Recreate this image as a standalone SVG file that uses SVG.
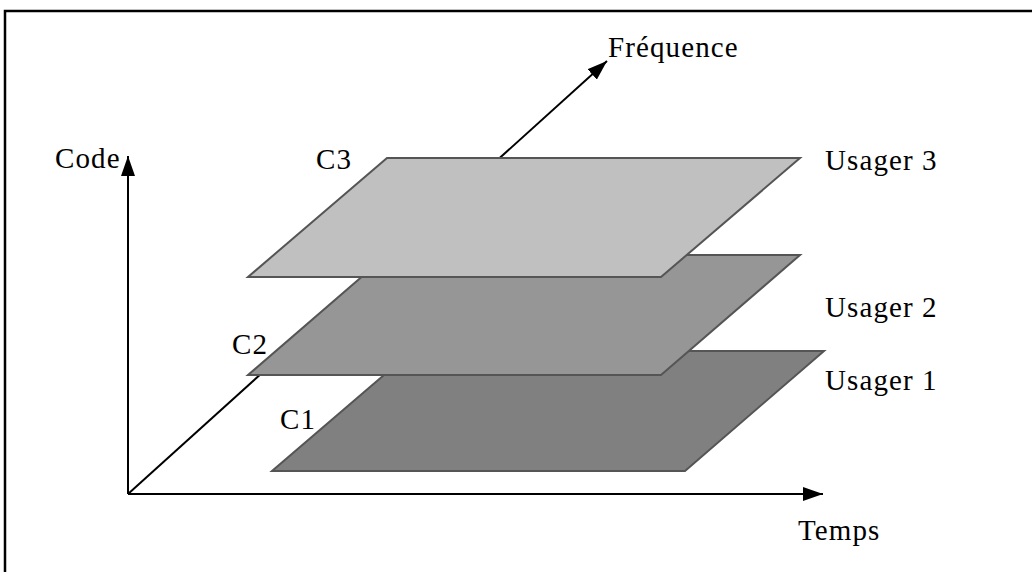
<svg xmlns="http://www.w3.org/2000/svg" width="1032" height="572" viewBox="0 0 1032 572">
<defs>
<marker id="ah" viewBox="0 0 20 14" refX="20" refY="7" markerWidth="20" markerHeight="14" markerUnits="userSpaceOnUse" orient="auto">
<path d="M0,0 L20,7 L0,14 Z" fill="#000"/>
</marker>
</defs>
<style>
.axis{stroke:#000;stroke-width:2;fill:none}
.plane{stroke:#555;stroke-width:2;stroke-linejoin:miter}
.lbl{font-family:"Liberation Serif","Times New Roman",serif;font-size:29px;letter-spacing:1.1px;fill:#000}
</style>
<rect x="0" y="0" width="1032" height="572" fill="#fff"/>
<g id="frame">
<path d="M5,572 L5,11 L1032,11" fill="none" stroke="#000" stroke-width="2.5"/>
</g>
<g id="connectors">
<line class="axis" x1="128" y1="494" x2="128" y2="156" marker-end="url(#ah)"/>
<line class="axis" x1="128" y1="494" x2="823" y2="494" marker-end="url(#ah)"/>
<line class="axis" x1="128" y1="494" x2="607" y2="61" marker-end="url(#ah)"/>
</g>
<g id="plane-c1">
<polygon class="plane" fill="#808080" points="272,471 685,471 824,351 412,351"/>
</g>
<g id="plane-c2">
<polygon class="plane" fill="#969696" points="248,375 661,375 800,255 387,255"/>
</g>
<g id="plane-c3">
<polygon class="plane" fill="#c0c0c0" points="248,277 661,277 800,158 387,158"/>
</g>
<g id="labels">
<text class="lbl" x="55" y="168">Code</text>
<text class="lbl" x="608" y="57">Fréquence</text>
<text class="lbl" x="798" y="540">Temps</text>
<text class="lbl" x="316" y="169">C3</text>
<text class="lbl" x="232" y="354">C2</text>
<text class="lbl" x="280" y="429">C1</text>
<text class="lbl" x="825" y="170">Usager 3</text>
<text class="lbl" x="825" y="317">Usager 2</text>
<text class="lbl" x="825" y="390">Usager 1</text>
</g>
</svg>
